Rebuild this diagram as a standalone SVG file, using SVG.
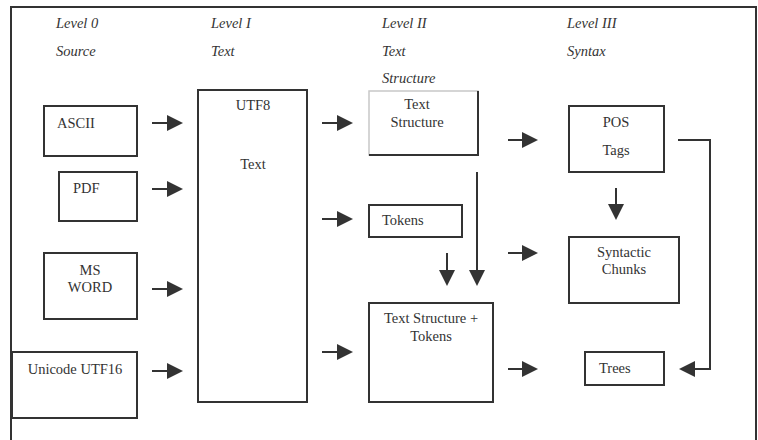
<svg xmlns="http://www.w3.org/2000/svg" width="758" height="440" viewBox="0 0 758 440">
<defs>
<style>
.box{fill:#fff;stroke:#333;stroke-width:2}
.t{font-family:"Liberation Serif","Times New Roman",serif;font-size:14.5px;fill:#333}
.c{text-anchor:middle}
.h{font-family:"Liberation Serif","Times New Roman",serif;font-size:14.5px;font-style:italic;fill:#333}
.ln{fill:none;stroke:#333;stroke-width:2}
</style>
<marker id="ah" viewBox="0 0 16 16" refX="8" refY="8" markerWidth="16" markerHeight="16" markerUnits="userSpaceOnUse" orient="auto">
<path d="M0,0 L16,8 L0,16 z" fill="#333"/>
</marker>
</defs>
<rect x="0" y="0" width="758" height="440" fill="#fff"/>
<rect x="11" y="7" width="745" height="445" fill="none" stroke="#333" stroke-width="2"/>
<g id="headers">
<text class="h" x="56" y="28">Level 0</text>
<text class="h" x="56" y="56">Source</text>
<text class="h" x="211" y="28">Level I</text>
<text class="h" x="211" y="56">Text</text>
<text class="h" x="382" y="28">Level II</text>
<text class="h" x="382" y="56">Text</text>
<text class="h" x="382" y="83">Structure</text>
<text class="h" x="567" y="28">Level III</text>
<text class="h" x="567" y="56">Syntax</text>
</g>
<g id="ascii"><rect class="box" x="44" y="106" width="93" height="50"/><text class="t" x="57" y="128">ASCII</text></g>
<g id="pdf"><rect class="box" x="59" y="172" width="78" height="49"/><text class="t" x="73" y="193">PDF</text></g>
<g id="msword"><rect class="box" x="44" y="253" width="93" height="66"/><text class="t c" x="90" y="275">MS</text><text class="t c" x="90" y="292">WORD</text></g>
<g id="utf16"><rect class="box" x="12" y="352" width="125" height="66"/><text class="t c" x="75" y="374">Unicode UTF16</text></g>
<g id="utf8"><rect class="box" x="198" y="90" width="109" height="312"/><text class="t c" x="253" y="110">UTF8</text><text class="t c" x="253" y="169">Text</text></g>
<g id="textstructure"><rect x="369" y="91" width="109" height="64" fill="#fff" stroke="#c8c8c8" stroke-width="1.5"/><path class="ln" d="M478,91 V155 H369"/><text class="t c" x="417" y="109">Text</text><text class="t c" x="417" y="127">Structure</text></g>
<g id="tokens"><rect class="box" x="369" y="205" width="93" height="32"/><text class="t" x="382" y="225">Tokens</text></g>
<g id="tstokens"><rect class="box" x="369" y="303" width="124" height="99"/><text class="t c" x="431" y="323">Text Structure +</text><text class="t c" x="431" y="341">Tokens</text></g>
<g id="pos"><rect class="box" x="569" y="106" width="95" height="66"/><text class="t c" x="616" y="127">POS</text><text class="t c" x="616" y="155">Tags</text></g>
<g id="chunks"><rect class="box" x="569" y="237" width="110" height="66"/><text class="t c" x="624" y="257">Syntactic</text><text class="t c" x="624" y="274">Chunks</text></g>
<g id="trees"><rect class="box" x="585" y="352" width="79" height="33"/><text class="t" x="599" y="373">Trees</text></g>
<g id="connectors" class="ln" marker-end="url(#ah)">
<path d="M152,123 H175"/>
<path d="M152,189 H175"/>
<path d="M152,289 H175"/>
<path d="M152,371 H175"/>
<path d="M322,123 H345"/>
<path d="M322,219 H345"/>
<path d="M322,352 H345"/>
<path d="M477,172 V278"/>
<path d="M447,253 V278"/>
<path d="M508,140 H530"/>
<path d="M508,253 H530"/>
<path d="M508,369 H530"/>
<path d="M616,188 V212"/>
<path d="M678,140 H710 V369 H687"/>
</g>
</svg>
